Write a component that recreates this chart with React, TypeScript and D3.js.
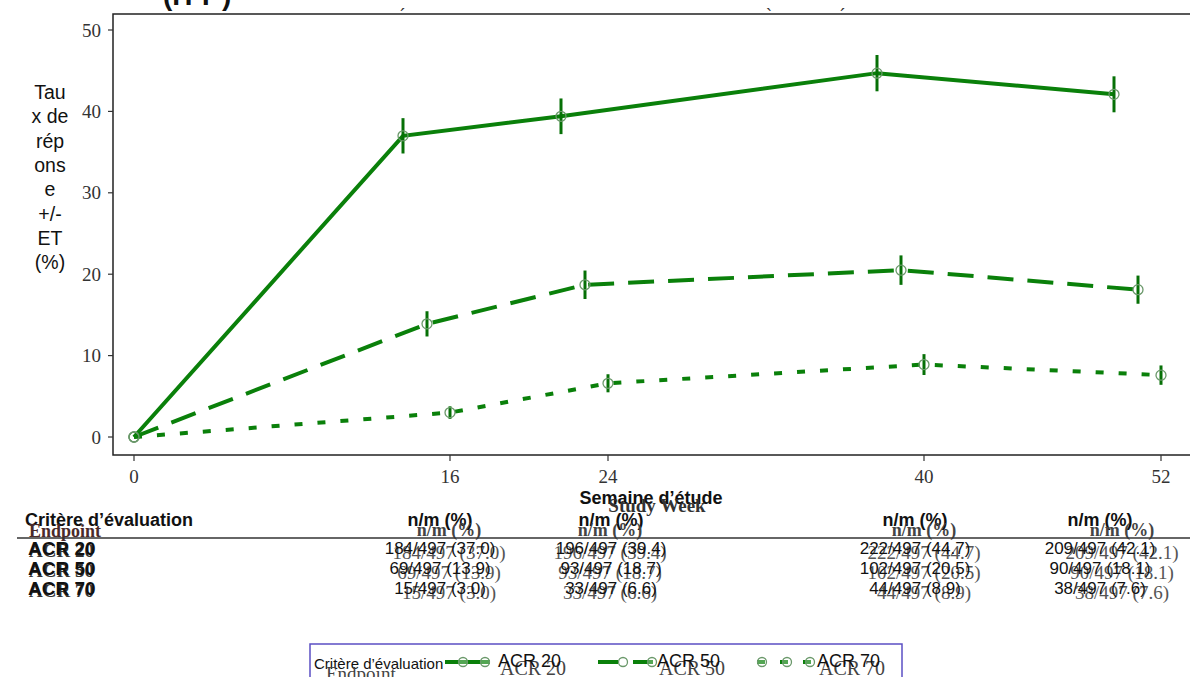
import React from "react";
import * as d3 from "d3";

const weeks = [0, 16, 24, 40, 52];
const xTicks = [0, 16, 24, 40, 52];
const yTicks = [0, 10, 20, 30, 40, 50];
const seriesNames = ["ACR 20", "ACR 50", "ACR 70"];
const acr20 = [0, 37.0, 39.4, 44.7, 42.1];
const acr50 = [0, 13.9, 18.7, 20.5, 18.1];
const acr70 = [0, 3.0, 6.6, 8.9, 7.6];
const se20 = [0, 2.17, 2.19, 2.23, 2.21];
const se50 = [0, 1.55, 1.75, 1.81, 1.73];
const se70 = [0, 0.77, 1.11, 1.28, 1.19];
const tableWeeks = [16, 24, 40, 52];
const n20 = [184, 196, 222, 209];
const n50 = [69, 93, 102, 90];
const n70 = [15, 33, 44, 38];
const pct20 = ["37.0", "39.4", "44.7", "42.1"];
const pct50 = ["13.9", "18.7", "20.5", "18.1"];
const pct70 = ["3.0", "6.6", "8.9", "7.6"];
const mTotal = 497;
const yLabelLines = ["Tau", "x de", "rép", "ons", "e", "+/-", "ET", "(%)"];

const LINE = "#0a800a";
const BAR = "#067006";
const MARK = "#6a986a";
const SANS = "Arial, 'Liberation Sans', sans-serif";
const SERIF = "'Times New Roman', 'Liberation Serif', serif";

export default function App() {
  const x = d3.scaleLinear().domain([0, 52]).range([134, 1161]);
  const y = d3.scaleLinear().domain([0, 50]).range([437, 30]);
  const frame = { l: 113, t: 14, r: 1192, b: 455 };
  const dodge = [-47, -23, 0];
  const dashes = [null, "26,14", "8,15"];
  const values = [acr20, acr50, acr70];
  const ses = [se20, se50, se70];
  const ns = [n20, n50, n70];
  const pcts = [pct20, pct50, pct70];

  const px = (s: number, i: number) => x(weeks[i]) + (weeks[i] > 0 ? dodge[s] : 0);
  const line = (s: number) =>
    d3
      .line<number>()
      .x((_, i) => px(s, i))
      .y((v) => y(v))(values[s]) as string;

  const sansCols = [440, 611, 915, 1100];
  const serifCols = [449, 610, 924, 1122];
  const rowY = [548, 568, 588];

  const legendKeys = [
    { x0: 445, x1: 490, dots: [463, 485], tx: 498, dash: null },
    { x0: 598, x1: 653, dots: [623, 652], tx: 657, dash: "20,15" },
    { x0: 757, x1: 815, dots: [762, 787, 810], tx: 817, dash: "8,15" },
  ];

  return (
    <div style={{ position: "absolute", left: 0, top: 0 }}>
      <svg width={1190} height={677} style={{ display: "block", background: "#fff" }}>
        {/* cut-off title */}
        <text x={163} y={5} fontFamily={SANS} fontWeight="bold" fontSize={28} fill="#111">(ITT )</text>
        <text x={400} y={22} fontFamily={SANS} fontSize={18} fill="#333">´</text>
        <text x={766} y={22} fontFamily={SANS} fontSize={18} fill="#333">`</text>
        <text x={840} y={22} fontFamily={SANS} fontSize={18} fill="#333">´</text>

        {/* frame */}
        <rect x={frame.l} y={frame.t} width={frame.r - frame.l} height={frame.b - frame.t} fill="none" stroke="#222" strokeWidth={1.5} />

        {/* y axis */}
        {yTicks.map((t) => (
          <g key={"y" + t}>
            <line x1={108} x2={frame.l} y1={y(t)} y2={y(t)} stroke="#333" strokeWidth={1.2} />
            <text x={101} y={y(t)} textAnchor="end" dominantBaseline="central" fontFamily={SERIF} fontSize={19} fill="#333">{t}</text>
          </g>
        ))}
        {/* x axis */}
        {xTicks.map((t) => (
          <g key={"x" + t}>
            <line x1={x(t)} x2={x(t)} y1={frame.b} y2={frame.b + 6} stroke="#333" strokeWidth={1.2} />
            <text x={x(t)} y={476} textAnchor="middle" dominantBaseline="central" fontFamily={SERIF} fontSize={19} fill="#333">{t}</text>
          </g>
        ))}

        {/* y label */}
        {yLabelLines.map((l, i) => (
          <text key={"yl" + i} x={50} y={92 + i * 24.3} textAnchor="middle" dominantBaseline="central" fontFamily={SANS} fontSize={19.5} fill="#111">{l}</text>
        ))}

        {/* series */}
        {values.map((_, s) => (
          <g key={"s" + s}>
            <path d={line(s)} fill="none" stroke={LINE} strokeWidth={4} strokeDasharray={dashes[s] ?? undefined} />
            {values[s].map((v, i) =>
              weeks[i] > 0 ? (
                <line key={"e" + i} x1={px(s, i)} x2={px(s, i)} y1={y(v + ses[s][i])} y2={y(v - ses[s][i])} stroke={BAR} strokeWidth={3} />
              ) : null
            )}
            {values[s].map((v, i) => (
              <circle key={"c" + i} cx={px(s, i)} cy={y(v)} r={5} fill="none" stroke={MARK} strokeWidth={1.3} />
            ))}
          </g>
        ))}

        {/* x axis title */}
        <text x={651} y={498} textAnchor="middle" dominantBaseline="central" fontFamily={SANS} fontWeight="bold" fontSize={18} fill="#111">Semaine d’étude</text>
        <text x={657} y={505} textAnchor="middle" dominantBaseline="central" fontFamily={SERIF} fontWeight="bold" fontSize={19} fill="#333">Study Week</text>

        {/* table header */}
        <text x={25} y={520} dominantBaseline="central" fontFamily={SANS} fontWeight="bold" fontSize={18} fill="#111">Critère d’évaluation</text>
        <text x={29} y={531} dominantBaseline="central" fontFamily={SERIF} fontWeight="bold" fontSize={18} fill="#4a2a2a">Endpoint</text>
        {tableWeeks.map((w, c) => (
          <g key={"h" + w}>
            <text x={sansCols[c]} y={520} textAnchor="middle" dominantBaseline="central" fontFamily={SANS} fontWeight="bold" fontSize={18} fill="#111">n/m (%)</text>
            <text x={serifCols[c]} y={530} textAnchor="middle" dominantBaseline="central" fontFamily={SERIF} fontWeight="bold" fontSize={18} fill="#444">n/m (%)</text>
          </g>
        ))}
        <line x1={17} x2={1190} y1={538} y2={538} stroke="#333" strokeWidth={1.3} />

        {/* table rows */}
        {seriesNames.map((name, r) => (
          <g key={"r" + r}>
            <text x={29} y={rowY[r] + 2} dominantBaseline="central" fontFamily={SERIF} fontWeight="bold" fontSize={19} fill="#333">{name}</text>
            <text x={28} y={rowY[r]} dominantBaseline="central" fontFamily={SANS} fontWeight="bold" fontSize={19} fill="#111">{name}</text>
            {tableWeeks.map((w, c) => (
              <g key={"v" + c}>
                <text x={serifCols[c]} y={rowY[r] + 4} textAnchor="middle" dominantBaseline="central" fontFamily={SERIF} fontSize={19} fill="#555">{`${ns[r][c]}/${mTotal} (${pcts[r][c]})`}</text>
                <text x={sansCols[c]} y={rowY[r]} textAnchor="middle" dominantBaseline="central" fontFamily={SANS} fontSize={17} fill="#111">{`${ns[r][c]}/${mTotal} (${pcts[r][c]})`}</text>
              </g>
            ))}
          </g>
        ))}

        {/* legend */}
        <rect x={310} y={644} width={592} height={50} fill="none" stroke="#5b4fc4" strokeWidth={1.5} />
        <text x={314} y={663} dominantBaseline="central" fontFamily={SANS} fontSize={15} fill="#111">Critère d’évaluation</text>
        <text x={326} y={673} dominantBaseline="central" fontFamily={SERIF} fontSize={19} fill="#444">Endpoint</text>
        {legendKeys.map((k, i) => (
          <g key={"lg" + i}>
            <line x1={k.x0} x2={k.x1} y1={662} y2={662} stroke={LINE} strokeWidth={4} strokeDasharray={k.dash ?? undefined} />
            {k.dots.map((d, j) => (
              <circle key={j} cx={d} cy={662} r={4.5} fill="#fff" fillOpacity={0.3} stroke={MARK} strokeWidth={1.3} />
            ))}
            <text x={k.tx + 2} y={668} dominantBaseline="central" fontFamily={SERIF} fontSize={20} fill="#444">{seriesNames[i]}</text>
            <text x={k.tx} y={661} dominantBaseline="central" fontFamily={SANS} fontSize={18} fill="#111">{seriesNames[i]}</text>
          </g>
        ))}
      </svg>
    </div>
  );
}
